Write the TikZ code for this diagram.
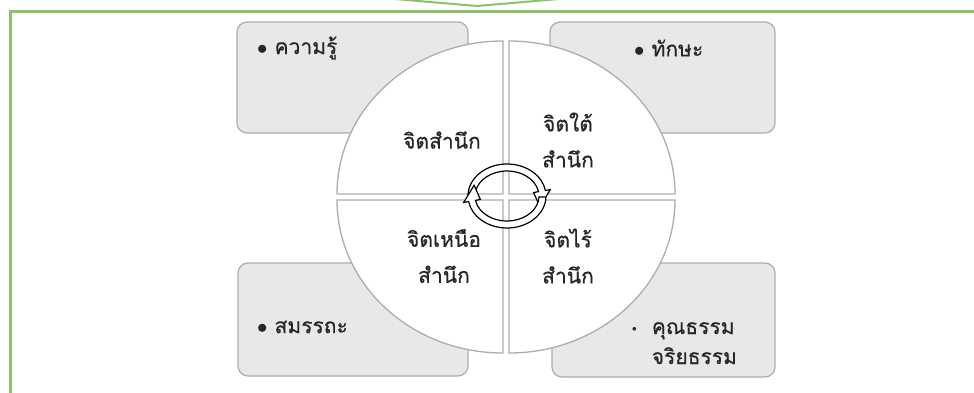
\documentclass[tikz,border=0pt]{standalone}
\usepackage{fontspec}
\newfontfamily\thaifont[Script=Thai,FakeBold=0.5]{Loma}
\definecolor{frameGreen}{HTML}{8CC168}
\definecolor{boxGray}{HTML}{E8E8E8}
\definecolor{edgeGray}{HTML}{ADADAD}

\begin{document}
\begin{tikzpicture}[x=1pt,y=1pt,
  box/.style={draw=edgeGray,line width=1.2pt,fill=boxGray,rounded corners=10pt},
  quarter/.style={draw=edgeGray,line width=1.3pt,fill=white},
  lbl/.style={font=\thaifont\fontsize{21}{36}\selectfont,text=black!85,align=center,inner sep=0pt}]
  \useasboundingbox (0,0) rectangle (974,392);
  \clip (0,0) rectangle (974,392);
  % frame and the tip of the arrow above it
  \draw[frameGreen,line width=3pt] (10,-20) rectangle (1000,380);
  \draw[frameGreen,line width=2pt] (383,394) -- (477,386) -- (570,394);
  % corner boxes
  \draw[box] (237,259) rectangle (468,370);
  \draw[box] (550,259) rectangle (775,370);
  \draw[box] (238,16) rectangle (468,129);
  \draw[box] (552,15) rectangle (775,129);
  % the four quarters of the circle
  \draw[quarter] (503,198) -- (337,198) arc[start angle=180,end angle=90,x radius=166,y radius=153] -- cycle;
  \draw[quarter] (509,198) -- (509,351) arc[start angle=90,end angle=0,x radius=166,y radius=153] -- cycle;
  \draw[quarter] (503,192) -- (503,39) arc[start angle=270,end angle=180,x radius=166,y radius=153] -- cycle;
  \draw[quarter] (509,192) -- (675,192) arc[start angle=0,end angle=-90,x radius=166,y radius=153] -- cycle;
  % cycle arrows in the middle
  \foreach \r in {0,180}
    \draw[black,line width=1.2pt,fill=white,shift={(507,196)},rotate=\r]
      (178:39 and 32) arc[start angle=178,end angle=10,x radius=39,y radius=32]
      -- (10:44 and 37) -- (-22:35.5 and 28.5) -- (10:27 and 20) -- (10:32 and 25)
      arc[start angle=10,end angle=178,x radius=32,y radius=25] -- cycle;
  % labels
  \node[lbl] (conscious) at (442,252) {จิตสำนึก};
  \node[lbl] (subconscious) at (568,252) {จิตใต้\\สำนึก};
  \node[lbl] (superconscious) at (444,136) {จิตเหนือ\\สำนึก};
  \node[lbl] (unconscious) at (568,136) {จิตไร้\\สำนึก};
  \node[lbl,anchor=west] (knowledge) at (257,344) {$\bullet$\hspace{7pt}ความรู้};
  \node[lbl,anchor=west] (skill) at (634,344) {$\bullet$\hspace{7pt}ทักษะ};
  \node[lbl,anchor=west] (competency) at (257,65) {$\bullet$\hspace{7pt}สมรรถะ};
  \node[lbl,anchor=base west,font=\thaifont\fontsize{21}{30}\selectfont] (ethics) at (632,58)
    {\begin{tabular}[t]{@{}l@{\hspace{15pt}}l@{}}\raisebox{3pt}{\small$\bullet$} & คุณธรรม\\ & จริยธรรม\end{tabular}};
\end{tikzpicture}
\end{document}
